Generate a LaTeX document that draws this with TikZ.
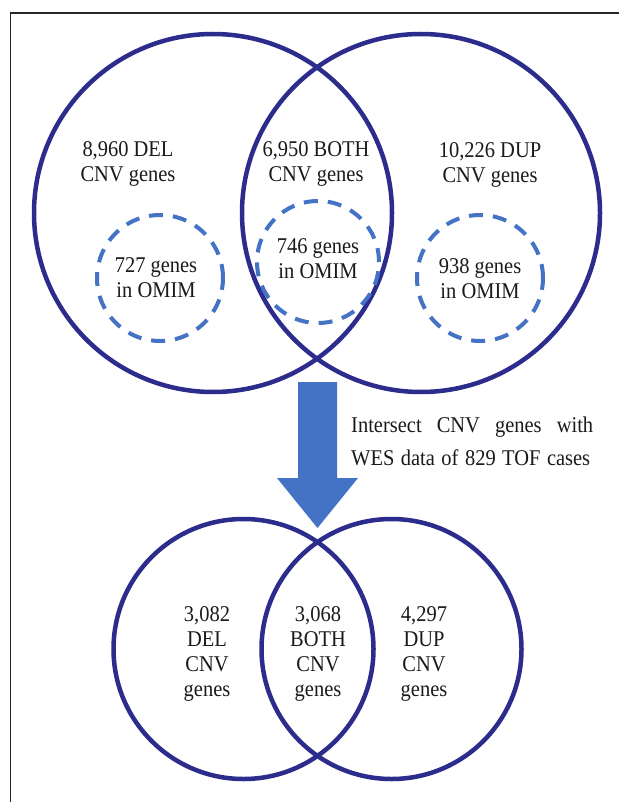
\documentclass[tikz,border=0pt]{standalone}
\usepackage{fontspec}
\setmainfont{Liberation Serif}[FakeStretch=0.91]
\definecolor{navy}{RGB}{44,44,140}
\definecolor{officeblue}{RGB}{68,114,196}
\definecolor{txt}{RGB}{26,26,26}
\begin{document}
\begin{tikzpicture}[x=1pt,y=-1pt,
  venn/.style={circle,draw=navy,line width=4.5pt,inner sep=0pt},
  omim/.style={circle,draw=officeblue,line width=4pt,dash pattern=on 14pt off 10pt,inner sep=0pt},
  lbl/.style={font=\fontsize{22.5}{25}\selectfont,text=txt,align=center,inner sep=0pt,anchor=base},
  frame/.style={draw=black!85,line width=1.2pt}]
\useasboundingbox (0,0) rectangle (619,802);
\fill[white] (0,0) rectangle (619,802);
\coordinate (fTR) at (619,13);
\coordinate (fC) at (10.5,13);
\coordinate (fBL) at (10.5,802);
\draw[frame] (fTR) -- (fC) -- (fBL);
% upper Venn
\node[venn,minimum size=358pt] (del) at (213,213) {};
\node[venn,minimum size=358pt] (dup) at (421,213) {};
\node[omim,minimum size=126pt] (omimdel) at (160,278) {};
\node[omim,minimum size=122pt] (omimboth) at (318,262) {};
\node[omim,minimum size=126pt] (omimdup) at (480,278) {};
\node[lbl] (tdel) at (128,182) {8,960 DEL\\CNV genes};
\node[lbl] (tboth) at (316,182) {6,950 BOTH\\CNV genes};
\node[lbl] (tdup) at (490,183) {10,226 DUP\\CNV genes};
\node[lbl] (tomimdel) at (156,297) {727 genes\\in OMIM};
\node[lbl] (tomimboth) at (318,278) {746 genes\\in OMIM};
\node[lbl] (tomimdup) at (480,298) {938 genes\\in OMIM};
% block arrow
\coordinate (atop) at (317.5,382);
\coordinate (atip) at (317.5,528);
\fill[officeblue] (atop) ++(-19.5,0) -- ++(39,0) -- ++(0,96) -- ++(21,0) -- (atip) -- ++(-40.5,-50) -- ++(21,0) -- cycle;
\node[font=\fontsize{22.5}{33}\selectfont,text=txt,align=left,inner sep=0pt,anchor=base west] (intersect) at (351,465)
  {\makebox[242pt][s]{Intersect CNV genes with}\\\makebox[239pt][s]{WES data of 829 TOF cases}};
% lower Venn
\node[venn,minimum size=260pt] (del2) at (243.5,649) {};
\node[venn,minimum size=260pt] (dup2) at (391.5,649) {};
\node[lbl,font=\fontsize{22.5}{24.7}\selectfont] (tdel2) at (207,696) {3,082\\DEL\\CNV\\genes};
\node[lbl,font=\fontsize{22.5}{24.7}\selectfont] (tboth2) at (318,696) {3,068\\BOTH\\CNV\\genes};
\node[lbl,font=\fontsize{22.5}{24.7}\selectfont] (tdup2) at (424,696) {4,297\\DUP\\CNV\\genes};
\end{tikzpicture}
\end{document}
